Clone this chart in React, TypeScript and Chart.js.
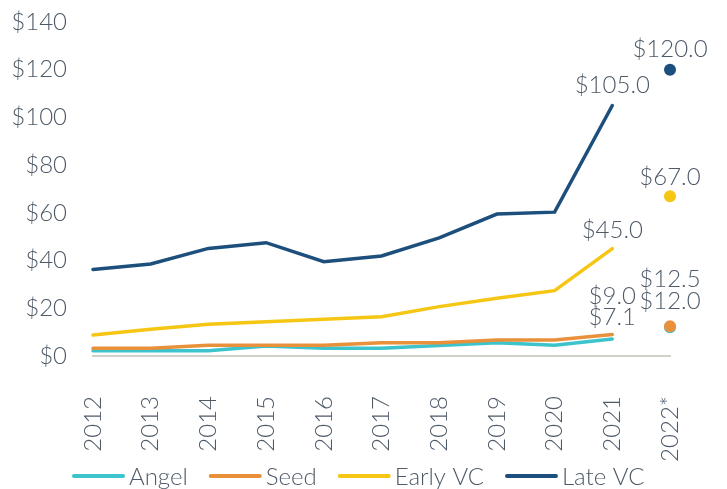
import React, { useEffect, useRef } from "react";
import { Chart, registerables } from "chart.js";

Chart.register(...registerables);

const categories = ["2012", "2013", "2014", "2015", "2016", "2017", "2018", "2019", "2020", "2021", "2022*"];
const seriesNames = ["Angel", "Seed", "Early VC", "Late VC"];
const angel = [2.2, 2.2, 2.2, 4.2, 3.2, 3.2, 4.4, 5.6, 4.5, 7.1, 12.0];
const seed = [3.3, 3.3, 4.5, 4.5, 4.5, 5.6, 5.6, 6.7, 6.7, 9.0, 12.5];
const earlyVC = [8.8, 11.2, 13.3, 14.4, 15.4, 16.5, 20.7, 24.2, 27.4, 45.0, 67.0];
const lateVC = [36.3, 38.6, 45.1, 47.5, 39.5, 41.9, 49.5, 59.5, 60.3, 105.0, 120.0];
const yTicks = [0, 20, 40, 60, 80, 100, 120, 140];

const colors = ["#3DC3CB", "#E8903A", "#F6C614", "#1D4F7C"];
const FONT = "Lato";
const TEXT = "#4E5A68";
const FS = 24;
// label offset above the point (px) for the 2021 and 2022 labels, per series
const offsetPrev = [22, 38, 18, 20];
const offsetLast = [26, 47, 19, 20];

const fmt = (v: number) => "$" + v.toFixed(1);

export default function App() {
  const ref = useRef<HTMLCanvasElement | null>(null);
  useEffect(() => {
    document.body.style.margin = "0";
    const seriesData = [angel, seed, earlyVC, lateVC];
    const last = categories.length - 1;
    const labelPlugin = {
      id: "valueLabels",
      afterDatasetsDraw(chart: any) {
        const ctx = chart.ctx;
        ctx.save();
        ctx.font = `300 ${FS}px ${FONT}`;
        ctx.fillStyle = TEXT;
        ctx.textAlign = "center";
        ctx.textBaseline = "middle";
        chart.data.datasets.forEach((ds: any, i: number) => {
          const meta = chart.getDatasetMeta(i);
          const p1 = meta.data[last - 1];
          ctx.fillText(fmt(ds.data[last - 1]), p1.x, p1.y - offsetPrev[i]);
          const p2 = meta.data[last];
          ctx.fillText(fmt(ds.data[last]), p2.x, p2.y - offsetLast[i]);
        });
        ctx.restore();
      },
    };
    const legendPlugin = {
      id: "customLegend",
      afterDraw(chart: any) {
        const ctx = chart.ctx;
        ctx.save();
        ctx.font = `300 ${FS}px ${FONT}`;
        ctx.textBaseline = "middle";
        ctx.textAlign = "left";
        let x = 72;
        const y = chart.height - 13;
        seriesNames.forEach((name, i) => {
          ctx.strokeStyle = colors[i];
          ctx.lineWidth = 4;
          ctx.lineCap = "round";
          ctx.beginPath();
          ctx.moveTo(x + 2, y);
          ctx.lineTo(x + 51, y);
          ctx.stroke();
          x += 57;
          ctx.fillStyle = TEXT;
          ctx.fillText(name, x, y + 1);
          x += ctx.measureText(name).width + 21;
        });
        ctx.restore();
      },
    };
    const chart = new Chart(ref.current as HTMLCanvasElement, {
      type: "line",
      data: {
        labels: categories,
        datasets: seriesNames.map((name, i) => ({
          label: name,
          data: seriesData[i],
          order: seriesNames.length - 1 - i,
          borderColor: colors[i],
          backgroundColor: colors[i],
          borderWidth: 3.5,
          borderCapStyle: "round",
          tension: 0,
          pointRadius: categories.map((_, k) => (k === last ? 6 : 0)),
          pointHoverRadius: 0,
          pointBorderWidth: 0,
          segment: {
            borderColor: (c: any) => (c.p1DataIndex === last ? "transparent" : undefined),
          },
        })),
      },
      options: {
        responsive: false,
        animation: false,
        layout: { padding: { top: 22, right: 57, bottom: 0, left: 0 } },
        plugins: { legend: { display: false }, tooltip: { enabled: false } },
        scales: {
          x: {
            offset: false,
            grid: { display: false, drawTicks: false },
            border: { display: true, color: "#D3CFC9", width: 2 },
            afterFit: (axis: any) => {
              axis.height = 133;
              axis.paddingLeft = 0;
              axis.paddingRight = 0;
            },
            ticks: {
              minRotation: 90,
              maxRotation: 90,
              padding: 40,
              color: TEXT,
              font: { family: FONT, size: FS, weight: "300" as any },
            },
          },
          y: {
            min: 0,
            max: 140,
            afterBuildTicks: (axis: any) => {
              axis.ticks = yTicks.map((v) => ({ value: v }));
            },
            afterFit: (axis: any) => {
              axis.width = 93;
              axis.paddingTop = 0;
              axis.paddingBottom = 0;
            },
            grid: { display: false, drawTicks: false },
            border: { display: false },
            ticks: {
              padding: 26,
              color: TEXT,
              font: { family: FONT, size: FS, weight: "300" as any },
              callback: (v: any) => "$" + v,
            },
          },
        },
      },
      plugins: [labelPlugin, legendPlugin],
    });
    return () => chart.destroy();
  }, []);
  return <canvas ref={ref} width={727} height={489} style={{ display: "block" }} />;
}
